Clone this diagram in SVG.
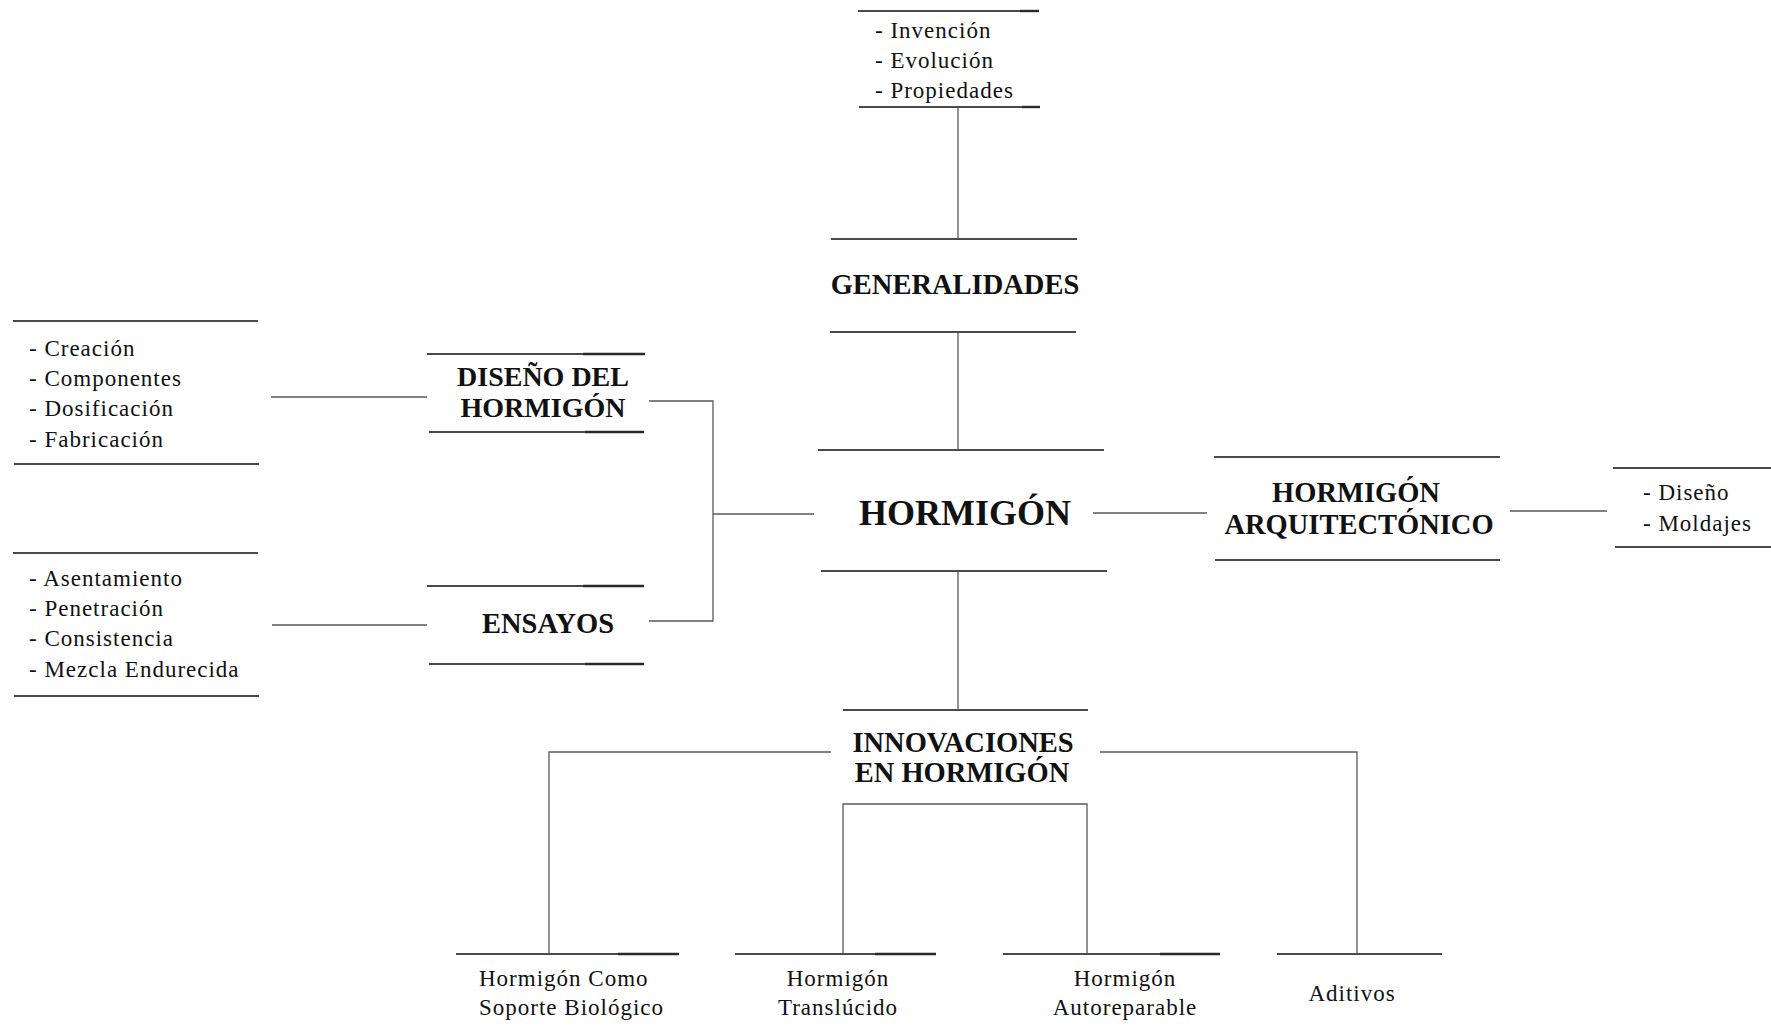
<svg xmlns="http://www.w3.org/2000/svg" width="1771" height="1030" viewBox="0 0 1771 1030">
<style>
.bl{stroke:#4a4a4a;stroke-width:2;fill:none}
.dk{stroke:#2a2a2a;stroke-width:2.4;fill:none}
.cn{stroke:#5a5a5a;stroke-width:1.3;fill:none}
.t{font-family:"Liberation Serif","Times New Roman",serif;font-size:23px;letter-spacing:1px;fill:#111}
.b{font-family:"Liberation Serif","Times New Roman",serif;font-size:28.5px;font-weight:bold;fill:#111;text-anchor:middle}
.m{text-anchor:middle}
</style>
<rect width="1771" height="1030" fill="#fff"/>
<g id="connectors">
<path class="cn" d="M958 107V239"/>
<path class="cn" d="M958 332V450"/>
<path class="cn" d="M958 571V710"/>
<path class="cn" d="M271 397H427"/>
<path class="cn" d="M272 625H427"/>
<path class="cn" d="M649 401H713V621H649"/>
<path class="cn" d="M713 514H814"/>
<path class="cn" d="M1093 513H1207"/>
<path class="cn" d="M1510 511H1607"/>
<path class="cn" d="M831 752H549V954"/>
<path class="cn" d="M1100 752H1357V954"/>
<path class="cn" d="M843 954V804H1087V954"/>
</g>
<g id="n-top">
<path class="bl" d="M858 11H1039"/><path class="dk" d="M1020 11H1039"/>
<path class="bl" d="M859 107H1040"/><path class="dk" d="M1022 107H1040"/>
<text class="t" x="875" y="38">- Invención</text>
<text class="t" x="875" y="68">- Evolución</text>
<text class="t" x="875" y="98">- Propiedades</text>
</g>
<g id="n-generalidades">
<path class="bl" d="M831 239H1077"/>
<path class="bl" d="M830 332H1076"/>
<text class="b" x="955" y="294">GENERALIDADES</text>
</g>
<g id="n-hormigon">
<path class="bl" d="M818 450H1104"/>
<path class="bl" d="M821 571H1107"/>
<text class="b" x="965" y="525" style="font-size:36px">HORMIGÓN</text>
</g>
<g id="n-diseno-list">
<path class="bl" d="M13 321H258"/>
<path class="bl" d="M14 464H259"/>
<text class="t" x="29" y="356">- Creación</text>
<text class="t" x="29" y="386">- Componentes</text>
<text class="t" x="29" y="416">- Dosificación</text>
<text class="t" x="29" y="447">- Fabricación</text>
</g>
<g id="n-diseno">
<path class="bl" d="M427 354H645"/><path class="dk" d="M583 354H645"/>
<path class="bl" d="M429 432H644"/><path class="dk" d="M585 432H644"/>
<text class="b" x="543" y="386" style="font-size:28px">DISEÑO DEL</text>
<text class="b" x="543" y="417" style="font-size:28px">HORMIGÓN</text>
</g>
<g id="n-ensayos-list">
<path class="bl" d="M13 553H258"/>
<path class="bl" d="M14 696H259"/>
<text class="t" x="29" y="586">- Asentamiento</text>
<text class="t" x="29" y="616">- Penetración</text>
<text class="t" x="29" y="646">- Consistencia</text>
<text class="t" x="29" y="677">- Mezcla Endurecida</text>
</g>
<g id="n-ensayos">
<path class="bl" d="M427 586H644"/><path class="dk" d="M583 586H644"/>
<path class="bl" d="M429 664H644"/><path class="dk" d="M585 664H644"/>
<text class="b" x="548" y="633">ENSAYOS</text>
</g>
<g id="n-arquitectonico">
<path class="bl" d="M1214 457H1500"/>
<path class="bl" d="M1215 560H1500"/>
<text class="b" x="1356" y="502">HORMIGÓN</text>
<text class="b" x="1359" y="534">ARQUITECTÓNICO</text>
</g>
<g id="n-arq-list">
<path class="bl" d="M1613 468H1771"/>
<path class="bl" d="M1615 547H1771"/>
<text class="t" x="1643" y="500">- Diseño</text>
<text class="t" x="1643" y="531">- Moldajes</text>
</g>
<g id="n-innovaciones">
<path class="bl" d="M843 710H1088"/>
<text class="b" x="963" y="752">INNOVACIONES</text>
<text class="b" x="962" y="782">EN HORMIGÓN</text>
</g>
<g id="n-biologico">
<path class="bl" d="M456 954H679"/><path class="dk" d="M618 954H679"/>
<text class="t" x="479" y="986">Hormigón Como</text>
<text class="t" x="479" y="1015">Soporte Biológico</text>
</g>
<g id="n-translucido">
<path class="bl" d="M735 954H936"/><path class="dk" d="M875 954H936"/>
<text class="t m" x="838" y="986">Hormigón</text>
<text class="t m" x="838" y="1015">Translúcido</text>
</g>
<g id="n-autoreparable">
<path class="bl" d="M1003 954H1220"/><path class="dk" d="M1160 954H1220"/>
<text class="t m" x="1125" y="986">Hormigón</text>
<text class="t m" x="1125" y="1015">Autoreparable</text>
</g>
<g id="n-aditivos">
<path class="bl" d="M1277 954H1442"/>
<text class="t m" x="1352" y="1001">Aditivos</text>
</g>
</svg>
